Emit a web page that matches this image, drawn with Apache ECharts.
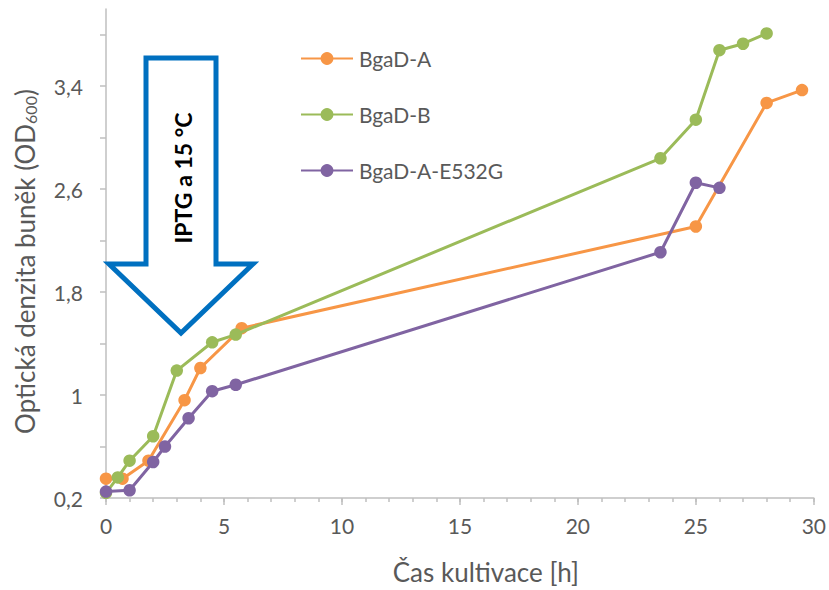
<!DOCTYPE html>
<html>
<head>
    <meta charset="utf-8">
    <title>BgaD kultivace</title>
    <script src="https://cdn.jsdelivr.net/npm/echarts@6/dist/echarts.min.js"></script>
</head>
<body style="margin:0;">
<div id="main" style="width: 829px;height:590px;"></div>
<script type="text/javascript">
    // hodnoty: [čas h, OD600]
    var bgadA = [[0, 0.35], [0.7, 0.35], [1.8, 0.49], [3.33, 0.96], [4, 1.21], [5.75, 1.52],
                 [25, 2.31], [28, 3.27], [29.5, 3.37]];
    var bgadB = [[0, 0.24], [0.5, 0.36], [1, 0.49], [2, 0.68], [3, 1.19], [4.5, 1.41], [5.5, 1.47],
                 [23.5, 2.84], [25, 3.14], [26, 3.68], [27, 3.73], [28, 3.81]];
    var bgadE532G = [[0, 0.25], [1, 0.26], [2, 0.48], [2.5, 0.60], [3.5, 0.82], [4.5, 1.03], [5.5, 1.08],
                     [23.5, 2.11], [25, 2.65], [26, 2.61]];
    var seriesNames = ['BgaD-A', 'BgaD-B', 'BgaD-A-E532G'];
    var seriesColors = ['#F79646', '#9BBB59', '#8064A2'];
    var yTicks = [0.2, 0.6, 1.0, 1.4, 1.8, 2.2, 2.6, 3.0, 3.4, 3.8];
    var yLabels = [0.2, 1.0, 1.8, 2.6, 3.4];
    var xMinorTicks = [];
    for (var h = 0; h <= 30; h++) xMinorTicks.push(h);
    var xMajorTicks = [0, 5, 10, 15, 20, 25, 30];

    var font = 'Lato, "Open Sans", sans-serif';
    var gray = '#595959';
    var axisGray = '#BFBFBF';

    var myChart = echarts.init(document.getElementById('main'), null, {renderer: 'svg'});

    var series = [bgadA, bgadB, bgadE532G].map(function (d, i) {
        return {
            name: seriesNames[i],
            type: 'line',
            data: d,
            symbol: 'circle',
            symbolSize: 12.5,
            lineStyle: {width: 3, color: seriesColors[i]},
            itemStyle: {color: seriesColors[i]},
            z: 2 + i
        };
    });

    var option = {
        animation: false,
        textStyle: {fontFamily: font},
        grid: {left: 106, right: 12, top: 9, bottom: 92},
        legend: {
            data: seriesNames,
            orient: 'vertical',
            left: 295,
            top: 41,
            itemWidth: 52,
            itemHeight: 16,
            itemGap: 31,
            textStyle: {fontFamily: font, fontSize: 21, color: gray, lineHeight: 25, padding: [0, 0, 0, 1]}
        },
        xAxis: [{
            type: 'value',
            min: 0,
            max: 30,
            interval: 5,
            name: 'Čas kultivace [h]',
            nameLocation: 'middle',
            nameGap: 61,
            nameTextStyle: {fontFamily: font, fontSize: 26, color: gray, padding: [0, 0, 0, 52]},
            axisLine: {lineStyle: {color: axisGray, width: 1.5}},
            axisTick: {length: 4, customValues: xMinorTicks, lineStyle: {color: axisGray, width: 1.5}},
            splitLine: {show: false},
            axisLabel: {fontFamily: font, fontSize: 21, color: gray, margin: 17}
        }, {
            // jen delší značky po 5 h
            type: 'value',
            position: 'bottom',
            min: 0,
            max: 30,
            interval: 5,
            axisLine: {show: false},
            axisTick: {show: true, length: 7, customValues: xMajorTicks, lineStyle: {color: axisGray, width: 1.5}},
            axisLabel: {show: false},
            splitLine: {show: false}
        }],
        yAxis: {
            type: 'value',
            min: 0.2,
            max: 4.0,
            name: '{n|Optická denzita buněk (OD}{s|600}{n|)}',
            nameLocation: 'middle',
            nameGap: 68,
            nameTextStyle: {
                padding: [0, 16, 0, 0],
                rich: {
                    n: {fontFamily: font, fontSize: 26, color: gray},
                    s: {fontFamily: font, fontSize: 16, color: gray, verticalAlign: 'bottom', padding: [10, 0, 0, 0]}
                }
            },
            axisLine: {show: true, lineStyle: {color: axisGray, width: 1.5}},
            axisTick: {show: true, length: 6, customValues: yTicks, lineStyle: {color: axisGray, width: 1.5}},
            splitLine: {show: false},
            axisLabel: {
                customValues: yLabels,
                fontFamily: font, fontSize: 21, color: gray, margin: 23,
                formatter: function (v) { return String(Math.round(v * 10) / 10).replace('.', ','); }
            }
        },
        graphic: [
            {
                type: 'polygon',
                shape: {points: [[146, 58], [216, 58], [216, 264], [253, 264], [181, 333], [109, 264], [146, 264]]},
                style: {fill: '#ffffff', stroke: '#0070C0', lineWidth: 5, lineJoin: 'miter'},
                z: 1
            },
            {
                type: 'text',
                x: 183,
                y: 178,
                rotation: Math.PI / 2,
                style: {
                    text: 'IPTG a 15 °C',
                    fontFamily: font,
                    fontSize: 23,
                    fontWeight: 'bold',
                    fill: '#000000',
                    align: 'center',
                    verticalAlign: 'middle'
                },
                z: 1
            }
        ],
        series: series
    };

    myChart.setOption(option);
</script>
</body>
</html>
